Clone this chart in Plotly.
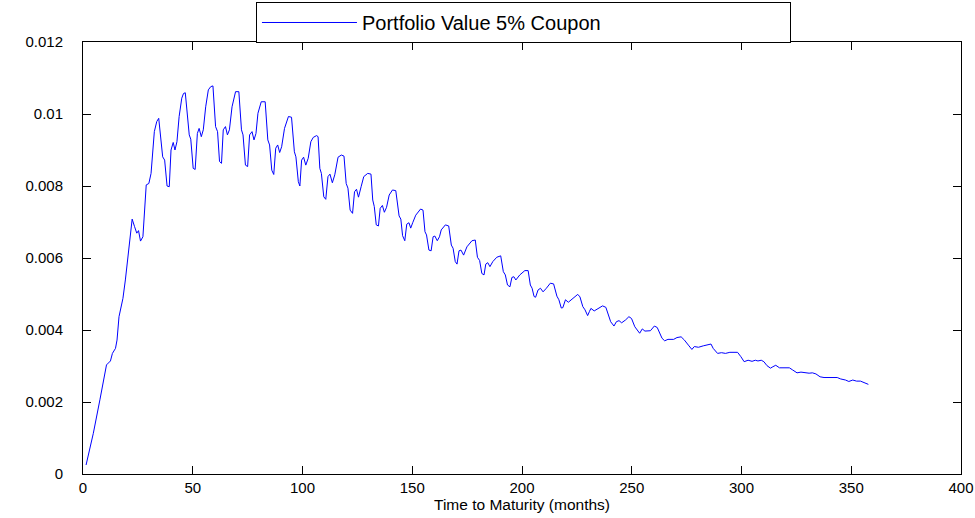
import plotly.graph_objects as go

months = [1.4, 4.7, 7.7, 10.7, 12.5, 13.4, 14.8, 15.5, 16.4, 17.5, 18.2, 19.3, 20.9, 22.4, 23.5, 24.5, 25.3, 26.2, 27.3,
          28.3, 28.8, 30.0, 31.0, 32.5, 33.6, 34.5, 36.3, 37.2, 38.3, 39.3, 40.1, 41.1, 41.9, 42.8, 43.8, 45.0, 45.8, 46.6,
          48.4, 49.1, 50.2, 51.1, 52.1, 52.9, 53.9, 54.8, 55.9, 57.1, 58.2, 59.2, 60.4, 61.3, 62.2, 63.1, 63.9, 64.9,
          65.8, 66.7, 67.9, 69.5, 71.0, 72.2, 72.9, 74.0, 75.0, 75.9, 77.0, 77.9, 78.8, 79.7, 81.2, 83.0, 84.2, 85.0,
          86.0, 86.9, 87.8, 88.7, 89.6, 90.5, 91.8, 93.6, 95.0, 96.3, 97.0, 98.1, 98.8, 99.6, 100.5, 101.5, 102.6,
          103.8, 104.9, 106.4, 107.1, 107.9, 108.6, 109.7, 110.6, 111.6, 112.5, 113.6, 114.7, 116.2, 117.7, 118.9,
          119.9, 120.7, 121.7, 122.8, 123.7, 124.6, 125.5, 126.7, 127.9, 129.7, 131.2, 132.0, 132.7, 133.6, 134.6,
          135.4, 136.4, 137.3, 138.3, 139.5, 141.0, 142.5, 144.0, 144.8, 145.6, 146.6, 147.5, 148.5, 149.3, 150.2,
          151.6, 153.8, 154.9, 155.8, 156.5, 157.6, 158.6, 159.5, 160.3, 161.4, 162.4, 163.2, 165.1, 166.6, 167.8,
          168.6, 169.6, 170.4, 171.3, 172.2, 173.4, 174.9, 177.2, 178.7, 179.7, 180.7, 181.7, 182.7, 183.5, 184.4,
          185.4, 186.7, 188.5, 190.3, 191.5, 192.4, 193.4, 194.5, 195.4, 196.3, 197.2, 199.0, 201.3, 202.8, 203.8,
          204.6, 205.5, 206.2, 207.3, 208.4, 209.6, 211.1, 212.9, 214.4, 215.9, 216.8, 217.9, 218.6, 219.8, 221.1,
          223.1, 225.4, 226.4, 227.7, 228.7, 229.9, 230.7, 231.4, 232.9, 234.9, 236.7, 238.2, 239.4, 240.4, 241.9,
          243.0, 244.2, 245.4, 247.2, 248.7, 249.9, 251.4, 252.5, 253.6, 254.8, 256.0, 258.5, 260.3, 261.6, 263.1,
          263.8, 265.0, 266.5, 269.1, 270.6, 272.5, 274.0, 275.8, 277.4, 278.5, 280.4, 282.6, 284.9, 286.1, 287.1,
          289.1, 290.9, 292.7, 294.7, 298.2, 299.7, 301.2, 303.0, 304.8, 306.3, 307.5, 309.0, 310.2, 311.6, 313.2,
          314.3, 315.6, 317.3, 321.8, 323.3, 325.3, 327.1, 328.6, 330.8, 332.3, 333.9, 335.8, 337.6, 343.6, 345.2,
          347.4, 348.9, 350.7, 352.4, 354.2, 356.0, 357.8]

portfolio_value = [0.00025, 0.00113, 0.00206, 0.00303, 0.00314, 0.00335, 0.00349, 0.00372, 0.00437, 0.00465, 0.00488,
                   0.00539, 0.00631, 0.00708, 0.00687, 0.00669, 0.00676, 0.00647, 0.00659,
                   0.00760, 0.00803, 0.00807, 0.00835, 0.00951, 0.00979, 0.00988, 0.00881, 0.00872, 0.00800, 0.00798,
                   0.00900, 0.00921, 0.00900, 0.00923, 0.00993, 0.01044, 0.01057, 0.01059,
                   0.00942, 0.00930, 0.00849, 0.00846, 0.00946, 0.00960, 0.00937, 0.00956, 0.01020, 0.01067, 0.01076,
                   0.01078, 0.00965, 0.00951, 0.00868, 0.00863, 0.00956, 0.00965,
                   0.00942, 0.00956, 0.01020, 0.01062, 0.01062, 0.00956, 0.00942, 0.00858, 0.00854, 0.00942, 0.00951,
                   0.00928, 0.00946, 0.01002, 0.01034, 0.01034, 0.00928, 0.00914,
                   0.00844, 0.00832, 0.00905, 0.00914, 0.00893, 0.00909, 0.00960, 0.00993, 0.00991, 0.00895, 0.00881,
                   0.00812, 0.00800, 0.00872, 0.00880, 0.00858, 0.00877,
                   0.00923, 0.00935, 0.00940, 0.00937, 0.00849, 0.00835, 0.00770, 0.00763, 0.00826, 0.00833, 0.00809,
                   0.00831, 0.00880, 0.00886, 0.00883,
                   0.00807, 0.00794, 0.00733, 0.00724, 0.00784, 0.00791, 0.00769, 0.00798, 0.00826, 0.00835, 0.00833,
                   0.00761, 0.00743, 0.00692, 0.00689,
                   0.00738, 0.00746, 0.00727, 0.00741, 0.00775, 0.00789, 0.00787, 0.00717, 0.00708, 0.00662, 0.00648,
                   0.00694, 0.00698, 0.00683, 0.00698,
                   0.00719, 0.00736, 0.00733, 0.00673, 0.00664, 0.00622, 0.00620, 0.00659, 0.00661, 0.00648, 0.00659,
                   0.00678, 0.00692, 0.00689, 0.00636,
                   0.00627, 0.00590, 0.00583, 0.00620, 0.00622, 0.00608, 0.00631, 0.00648, 0.00650, 0.00602, 0.00593,
                   0.00557, 0.00553, 0.00583, 0.00587,
                   0.00576, 0.00590, 0.00602, 0.00606, 0.00562, 0.00553, 0.00525, 0.00520, 0.00546, 0.00548, 0.00539,
                   0.00553, 0.00565, 0.00565, 0.00525,
                   0.00516, 0.00493, 0.00491, 0.00511, 0.00516, 0.00506, 0.00516, 0.00530, 0.00528, 0.00494, 0.00484,
                   0.00461, 0.00462, 0.00484, 0.00477,
                   0.00488, 0.00499, 0.00492, 0.00465, 0.00456, 0.00440, 0.00451, 0.00460, 0.00453, 0.00460, 0.00467,
                   0.00463, 0.00439, 0.00423, 0.00411,
                   0.00423, 0.00426, 0.00420, 0.00428, 0.00437, 0.00432, 0.00409, 0.00400, 0.00391, 0.00403, 0.00397,
                   0.00398, 0.00411, 0.00407, 0.00386,
                   0.00377, 0.00370, 0.00374, 0.00374, 0.00379, 0.00381, 0.00372, 0.00358, 0.00346, 0.00354, 0.00352,
                   0.00356, 0.00360, 0.00361, 0.00349,
                   0.00335, 0.00337, 0.00335, 0.00338, 0.00338, 0.00326, 0.00312, 0.00316, 0.00313, 0.00316, 0.00314,
                   0.00316, 0.00312, 0.00301, 0.00294,
                   0.00298, 0.00302, 0.00295, 0.00295, 0.00289, 0.00281, 0.00283, 0.00281, 0.00280, 0.00281, 0.00278,
                   0.00270, 0.00268, 0.00268, 0.00264,
                   0.00261, 0.00257, 0.00261, 0.00258, 0.00258, 0.00254, 0.00249]

series_name = "Portfolio Value 5% Coupon"
x_title = "Time to Maturity (months)"
x_ticks = [0, 50, 100, 150, 200, 250, 300, 350, 400]
y_ticks = [0, 0.002, 0.004, 0.006, 0.008, 0.01, 0.012]
y_tick_labels = ["0", "0.002", "0.004", "0.006", "0.008", "0.01", "0.012"]

FONT = "Liberation Sans, Arial, Helvetica, sans-serif"

fig = go.Figure()
fig.add_trace(go.Scatter(x=months, y=portfolio_value, mode="lines", name=series_name,
                         line=dict(color="#0000ff", width=1)))

axis_common = dict(showline=True, linecolor="black", linewidth=1, mirror="ticks",
                   ticks="inside", ticklen=8, tickcolor="black", tickwidth=1,
                   showgrid=False, zeroline=False, ticklabeloverflow="allow",
                   tickfont=dict(family=FONT, size=15, color="black"))

fig.update_xaxes(range=[0, 400], tickvals=x_ticks, ticktext=[str(v) for v in x_ticks],
                 title=dict(text=x_title, font=dict(family=FONT, size=15.5, color="black"), standoff=2),
                 **axis_common)
fig.update_yaxes(range=[0, 0.012], tickvals=y_ticks, ticktext=y_tick_labels,
                 ticklabelstandoff=16, **axis_common)

fig.update_layout(
    width=975, height=518,
    margin=dict(l=83, r=14, t=42, b=44, autoexpand=False),
    paper_bgcolor="white", plot_bgcolor="white",
    showlegend=True,
    legend=dict(x=0.197, y=1.0926, xanchor="left", yanchor="top",
                orientation="h", entrywidth=423, itemwidth=95,
                bordercolor="black", borderwidth=1, bgcolor="white",
                font=dict(family=FONT, size=20, color="black")),
    font=dict(family=FONT, color="black"),
)

fig.write_html("out.html", config={"displayModeBar": False},
               post_script="document.body.style.margin='0';document.body.style.padding='0';")
